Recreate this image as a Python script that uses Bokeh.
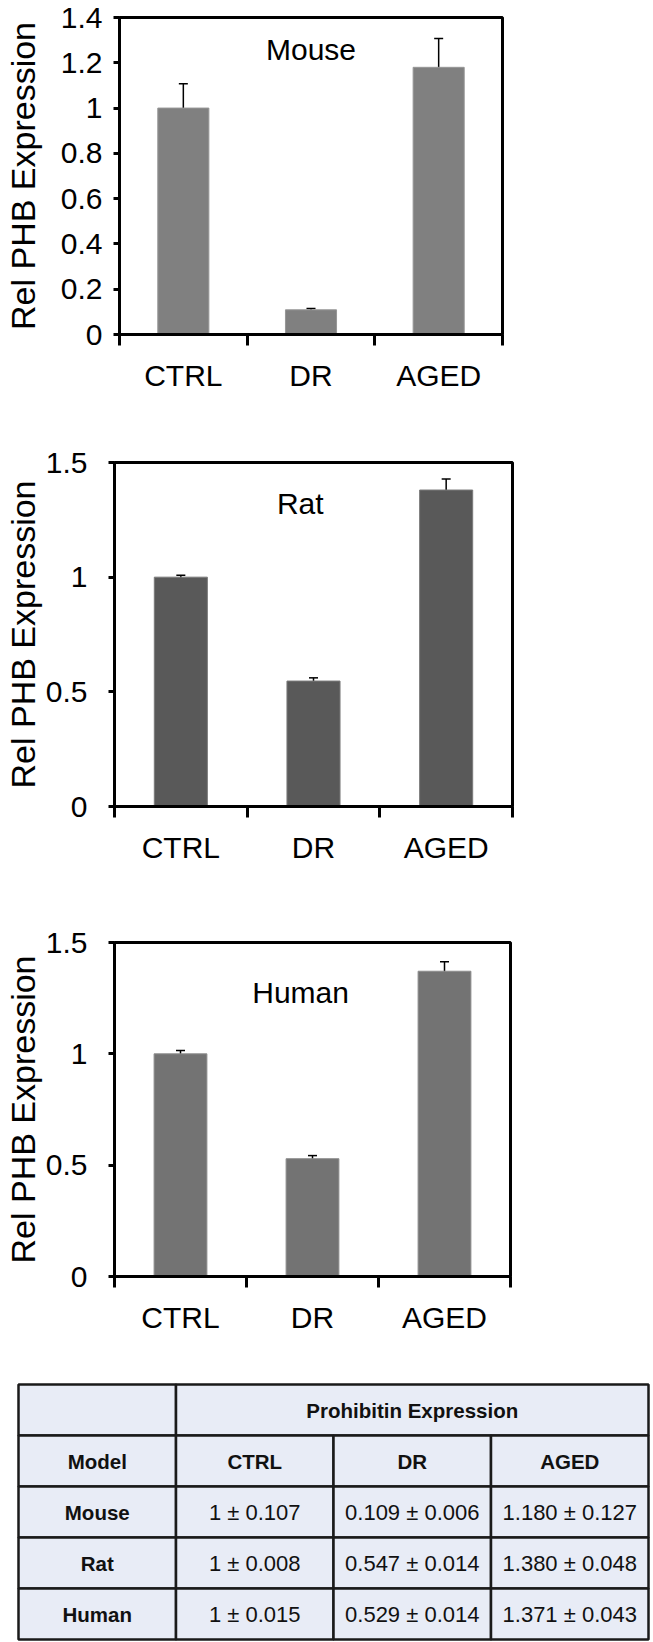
from bokeh.plotting import figure
from bokeh.models import (Range1d, FixedTicker, LinearAxis, ColumnDataSource,
                          Whisker, TeeHead, Label)
from bokeh.layouts import column
from bokeh.embed import file_html
from bokeh.resources import INLINE
from bokeh.core.properties import value

# ---------------- data ----------------
categories = ["CTRL", "DR", "AGED"]

mouse_mean = [1.0, 0.109, 1.180]
mouse_err = [0.107, 0.006, 0.127]
rat_mean = [1.0, 0.547, 1.380]
rat_err = [0.008, 0.014, 0.048]
human_mean = [1.0, 0.529, 1.371]
human_err = [0.015, 0.014, 0.043]

mouse_ticks = [0, 0.2, 0.4, 0.6, 0.8, 1, 1.2, 1.4]
rat_ticks = [0, 0.5, 1, 1.5]
human_ticks = [0, 0.5, 1, 1.5]

y_label = "Rel PHB Expression"

table_header = "Prohibitin Expression"
table_first_col = "Model"
table_models = ["Mouse", "Rat", "Human"]
mouse_cells = ["1 ± 0.107", "0.109 ± 0.006", "1.180 ± 0.127"]
rat_cells = ["1 ± 0.008", "0.547 ± 0.014", "1.380 ± 0.048"]
human_cells = ["1 ± 0.015", "0.529 ± 0.014", "1.371 ± 0.043"]

# ---------------- styles ----------------
FONT = "Liberation Sans"
W = 653


def chart(name, means, errs, ticks, color, edge, height, b_left, b_top,
          frame_w, frame_h, lab_standoff, ax_lab_standoff, title_x,
          title_frac):
    n = len(categories)
    ymax = ticks[-1]
    p = figure(width=W, height=height,
               x_range=Range1d(0, n), y_range=Range1d(0, ymax),
               output_backend="svg", toolbar_location=None,
               x_axis_type=None, y_axis_type=None,
               min_border_left=b_left, min_border_top=b_top,
               min_border_right=W - b_left - frame_w,
               min_border_bottom=height - b_top - frame_h)
    p.frame_align = False
    p.background_fill_color = "white"
    p.border_fill_color = "white"
    p.outline_line_color = "black"
    p.outline_line_width = 3

    xs = [i + 0.5 for i in range(n)]
    src = ColumnDataSource(dict(
        x=xs, top=means,
        upper=[m + e for m, e in zip(means, errs)],
        lower=[m - e for m, e in zip(means, errs)],
    ))
    p.vbar(x="x", top="top", bottom=0, width=0.4, source=src,
           fill_color=color, line_color=edge, line_width=1)

    wh = Whisker(base="x", upper="upper", lower="lower", source=src,
                 line_color="black", line_width=1.5,
                 upper_head=TeeHead(size=9, line_color="black", line_width=1.5),
                 lower_head=TeeHead(size=9, line_color="black", line_width=1.5))
    p.add_layout(wh)

    xaxis = LinearAxis(
        ticker=FixedTicker(ticks=xs, minor_ticks=list(range(n + 1))),
        major_label_overrides={x: c for x, c in zip(xs, categories)},
        axis_line_color="black", axis_line_width=3,
        major_tick_line_color=None, major_tick_in=0, major_tick_out=0,
        minor_tick_line_color="black", minor_tick_line_width=3,
        minor_tick_in=0, minor_tick_out=11,
        major_label_standoff=13,
        major_label_text_font=FONT, major_label_text_font_size="30px",
        major_label_text_color="black",
    )
    p.add_layout(xaxis, "below")

    yaxis = LinearAxis(
        ticker=FixedTicker(ticks=ticks, minor_ticks=[]),
        major_label_overrides={t: f"{t:g}" for t in ticks},
        axis_line_color="black", axis_line_width=3,
        major_tick_line_color="black", major_tick_line_width=3,
        major_tick_in=0, major_tick_out=6,
        minor_tick_line_color=None,
        major_label_standoff=lab_standoff,
        major_label_text_font=FONT, major_label_text_font_size="30px",
        major_label_text_color="black",
        axis_label=y_label, axis_label_standoff=ax_lab_standoff,
        axis_label_text_font=FONT, axis_label_text_font_size="34px",
        axis_label_text_font_style="normal", axis_label_text_color="black",
    )
    p.add_layout(yaxis, "left")

    p.add_layout(Label(x=title_x, y=ymax * title_frac, text=name,
                       text_font=FONT, text_font_size="30px",
                       text_color="black", text_align="center",
                       text_baseline="middle"))
    return p


p1 = chart("Mouse", mouse_mean, mouse_err, mouse_ticks, "#808080", "#969696",
           height=420, b_left=117, b_top=17, frame_w=385, frame_h=317,
           lab_standoff=11, ax_lab_standoff=16, title_x=1.5, title_frac=0.9)
p2 = chart("Rat", rat_mean, rat_err, rat_ticks, "#595959", "#7a7a7a",
           height=470, b_left=110, b_top=42, frame_w=402, frame_h=344,
           lab_standoff=21, ax_lab_standoff=1, title_x=1.4, title_frac=0.88)
p3 = chart("Human", human_mean, human_err, human_ticks, "#737373", "#8c8c8c",
           height=470, b_left=110, b_top=52, frame_w=400, frame_h=334,
           lab_standoff=21, ax_lab_standoff=1, title_x=1.41, title_frac=0.85)

# ---------------- table ----------------
n_cols = 1 + len(categories)
n_rows = 2 + len(table_models)
pad_x = 2 / 157.5
pad_y = 2 / 51
pt = figure(width=W, height=282,
            x_range=Range1d(-pad_x, n_cols + pad_x),
            y_range=Range1d(n_rows + pad_y, -pad_y),
            output_backend="svg", toolbar_location=None,
            x_axis_type=None, y_axis_type=None,
            min_border_left=16, min_border_right=3,
            min_border_top=22, min_border_bottom=1)
pt.frame_align = False
pt.outline_line_color = None
pt.background_fill_color = "white"
pt.border_fill_color = "white"

cl, cr, ct, cb = [], [], [], []
bold_x, bold_y, bold_t = [], [], []
reg_x, reg_y, reg_t = [], [], []

# header row 0: empty corner + merged title
cl += [0, 1]; cr += [1, n_cols]; ct += [0, 0]; cb += [1, 1]
bold_x.append((1 + n_cols) / 2); bold_y.append(0.5); bold_t.append(table_header)

# header row 1
for c, txt in enumerate([table_first_col] + categories):
    cl.append(c); cr.append(c + 1); ct.append(1); cb.append(2)
    bold_x.append(c + 0.5); bold_y.append(1.5); bold_t.append(txt)

# body rows
for r, (model, cells) in enumerate(zip(table_models,
                                       [mouse_cells, rat_cells, human_cells])):
    row = 2 + r
    cl.append(0); cr.append(1); ct.append(row); cb.append(row + 1)
    bold_x.append(0.5); bold_y.append(row + 0.5); bold_t.append(model)
    for c, txt in enumerate(cells):
        cl.append(c + 1); cr.append(c + 2); ct.append(row); cb.append(row + 1)
        reg_x.append(c + 1.5); reg_y.append(row + 0.5); reg_t.append(txt)

pt.quad(left=cl, right=cr, top=ct, bottom=cb, fill_color="#e8ecf6",
        line_color="#1a1a1a", line_width=2.5)
pt.text(x=bold_x, y=bold_y, text=bold_t, text_font=value(FONT),
        text_font_size=value("20.5px"), text_font_style="bold",
        text_color="#111111", text_align="center", text_baseline="middle")
pt.text(x=reg_x, y=reg_y, text=reg_t, text_font=value(FONT),
        text_font_size=value("22px"), text_color="#111111",
        text_align="center", text_baseline="middle")

layout = column(p1, p2, p3, pt, spacing=0)
open("out.html", "w").write(file_html(layout, INLINE))
